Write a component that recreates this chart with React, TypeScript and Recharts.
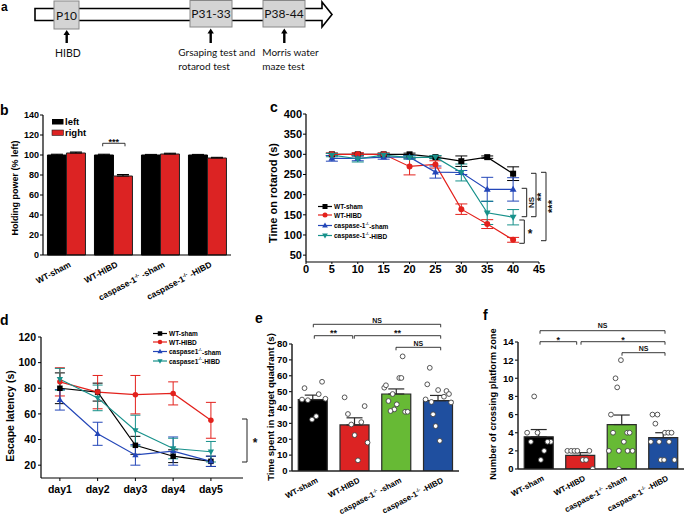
import React from "react";
import {
  BarChart,
  Bar,
  LineChart,
  Line,
  ComposedChart,
  Scatter,
  XAxis,
  YAxis,
  ErrorBar,
  Cell,
} from "recharts";

const FONT = "'Liberation Sans', Arial, sans-serif";

// group names used by b, e, f
const groupNames = ["WT-sham", "WT-HIBD", "caspase-1-/- -sham", "caspase-1-/- -HIBD"];

// b: grip strength (% left)
const gripLeft = [100, 100, 100, 100];
const gripLeftErr = [0.8, 0.8, 0.6, 0.6];
const gripRight = [102, 79, 101, 97];
const gripRightErr = [1, 1.5, 0.8, 0.7];

// c: rotarod
const rotTime = [5, 10, 15, 20, 25, 30, 35, 40];
const rotWtSham = [300, 300, 300, 300, 293, 283, 293, 252];
const rotWtShamErr = [3, 3, 3, 3, 3, 13, 3, 17];
const rotWtHibd = [300, 300, 300, 270, 275, 164, 127, 88];
const rotWtHibdErr = [3, 4, 3, 21, 9, 13, 11, 6];
const rotKoSham = [290, 290, 293, 293, 256, 255, 213, 213];
const rotKoShamErr = [7, 6, 5, 4, 15, 5, 30, 29];
const rotKoHibd = [298, 289, 298, 292, 293, 255, 155, 144];
const rotKoHibdErr = [4, 8, 4, 4, 4, 21, 29, 19];
const rotLegend = ["WT-sham", "WT-HIBD", "caspase-1-/--sham", "caspase-1-/--HIBD"];

// d: Morris water maze escape latency
const mwmDay = [1, 2, 3, 4, 5];
const mwmWtSham = [80, 77, 35.5, 27, 23];
const mwmWtShamErr = [12, 7, 7, 5, 4];
const mwmWtHibd = [85, 77, 75, 76, 55];
const mwmWtHibdErr = [11, 13, 15, 9, 14];
const mwmKoSham = [71, 44.5, 28, 31, 23];
const mwmKoShamErr = [8, 9, 8, 11, 4];
const mwmKoHibd = [87, 72.5, 47, 33, 30.5];
const mwmKoHibdErr = [8.5, 10, 12, 8, 8];
const mwmLegend = ["WT-sham", "WT-HIBD", "caspase1-/--sham", "caspase1-/--HIBD"];

// e: time in target quadrant, mean / sem / individual animals [x offset, value]
const quadMean = [45, 29, 48.5, 44.3];
const quadErr = [2.8, 4.5, 3.2, 3.3];
const quadPtsWtSham = [[-0.2, 52.2], [-0.26, 45], [-0.12, 44.6], [0.14, 48.4], [0.22, 56.2], [0.3, 45.5], [0.08, 34.5], [-0.02, 32.4]];
const quadPtsWtHibd = [[-0.24, 46.4], [-0.16, 35.9], [-0.08, 29.3], [0, 22.6], [0.16, 30.8], [0.24, 40.9], [0.31, 17.9], [0.08, 6.7]];
const quadPtsKoSham = [[-0.29, 52.5], [-0.25, 54], [-0.19, 44.1], [-0.09, 48.5], [0.01, 42], [-0.05, 38.8], [-0.14, 37.8], [0.07, 58.6], [0.12, 58.6], [0.15, 72.2], [0.21, 37.3], [0.27, 37.3]];
const quadPtsKoHibd = [[-0.3, 45.1], [-0.16, 43.5], [-0.26, 54.6], [-0.2, 65], [-0.12, 35.7], [-0.06, 28.3], [0.04, 19], [0, 51], [0.14, 46.8], [0.2, 50.4], [0.26, 48.5], [0.31, 43.2]];

// f: number of platform crossings
const crossMean = [3.55, 1.5, 4.9, 3.45];
const crossErr = [0.8, 0.3, 1.05, 0.55];
const crossPtsWtSham = [[-0.28, 4], [-0.03, 4], [-0.11, 8], [-0.19, 3], [0.29, 3], [0.21, 3], [0.13, 2], [0.05, 1]];
const crossPtsWtHibd = [[-0.31, 2], [-0.22, 2], [-0.14, 2], [-0.07, 2], [0.22, 2], [0.06, 1], [0.14, 1], [0.3, 0]];
const crossPtsKoSham = [[-0.26, 6], [-0.15, 10], [-0.11, 9], [-0.02, 12], [-0.07, 0], [-0.21, 4], [0.13, 4], [0.19, 4], [0.05, 3], [-0.31, 2], [-0.07, 2], [0.14, 2], [0.26, 2]];
const crossPtsKoHibd = [[-0.26, 6], [-0.14, 6], [-0.19, 5], [0.04, 4], [0.12, 4], [0.2, 4], [-0.3, 3], [-0.1, 3], [0.14, 3], [-0.06, 1], [0.02, 1], [0.27, 1]];

const RED = "#e3211c";
const BLUE = "#2346b8";
const TEAL = "#17918b";
const barColors = ["#000000", "#dc2323", "#67ba35", "#1f4f9f"];

const lineStyles = [
  { key: "wtSham", color: "#000", shape: "square" },
  { key: "wtHibd", color: RED, shape: "circle" },
  { key: "koSham", color: BLUE, shape: "up" },
  { key: "koHibd", color: TEAL, shape: "down" },
];

const gripData = groupNames.map((name, i) => ({
  name,
  left: gripLeft[i],
  leftErr: [0, gripLeftErr[i]],
  right: gripRight[i],
  rightErr: [0, gripRightErr[i]],
}));

const rotData = rotTime.map((t, i) => ({
  t,
  wtSham: rotWtSham[i], wtShamE: rotWtShamErr[i],
  wtHibd: rotWtHibd[i], wtHibdE: rotWtHibdErr[i],
  koSham: rotKoSham[i], koShamE: rotKoShamErr[i],
  koHibd: rotKoHibd[i], koHibdE: rotKoHibdErr[i],
}));

const mwmData = mwmDay.map((t, i) => ({
  t,
  wtSham: mwmWtSham[i], wtShamE: mwmWtShamErr[i],
  wtHibd: mwmWtHibd[i], wtHibdE: mwmWtHibdErr[i],
  koSham: mwmKoSham[i], koShamE: mwmKoShamErr[i],
  koHibd: mwmKoHibd[i], koHibdE: mwmKoHibdErr[i],
}));

const barData = (mean: number[], err: number[]) =>
  groupNames.map((name, i) => ({ name, y: mean[i], err: [0, err[i]] }));

const pointData = (groups: number[][][]) =>
  groups.flatMap((pts, i) => pts.map(([dx, y]) => ({ x: i + dx, y })));

const quadBars = barData(quadMean, quadErr);
const quadPts = pointData([quadPtsWtSham, quadPtsWtHibd, quadPtsKoSham, quadPtsKoHibd]);
const crossBars = barData(crossMean, crossErr);
const crossPts = pointData([crossPtsWtSham, crossPtsWtHibd, crossPtsKoSham, crossPtsKoHibd]);

// text with a small "-/-" superscript
const Sup = ({ text, fs }: { text: string; fs: number }) => {
  const parts = text.split("-/-");
  if (parts.length < 2) return <>{text}</>;
  return (
    <>
      {parts[0]}
      <tspan dy={-fs * 0.4} fontSize={fs * 0.6}>-/-</tspan>
      <tspan dy={fs * 0.4}>{parts[1]}</tspan>
    </>
  );
};

const rotTick = (fs: number, dx: number, dy: number) => (props: any) => {
  const { x, y, payload } = props;
  return (
    <g transform={`translate(${x + dx},${y + dy}) rotate(-28)`}>
      <text textAnchor="end" dy="0.71em" fontSize={fs} fontWeight="bold" fill="#000">
        <Sup text={payload.value} fs={fs} />
      </text>
    </g>
  );
};

const marker = (shape: string, cx: number, cy: number, s: number, color: string) => {
  const h = s / 2;
  if (shape === "square") return <rect x={cx - h} y={cy - h} width={s} height={s} fill={color} />;
  if (shape === "circle") return <circle cx={cx} cy={cy} r={h} fill={color} />;
  if (shape === "up")
    return <polygon points={`${cx},${cy - h * 1.2} ${cx - h * 1.15},${cy + h * 0.8} ${cx + h * 1.15},${cy + h * 0.8}`} fill={color} />;
  return <polygon points={`${cx},${cy + h * 1.2} ${cx - h * 1.15},${cy - h * 0.8} ${cx + h * 1.15},${cy - h * 0.8}`} fill={color} />;
};

const dotFn = (shape: string, color: string, s: number) => (p: any) => (
  <g key={`${shape}-${p.index}`}>{p.cx != null ? marker(shape, p.cx, p.cy, s, color) : null}</g>
);

const openDot = (p: any) => (
  <circle key={`pt-${p.index}`} cx={p.cx} cy={p.cy} r={2.4} fill="#fff" stroke="#444" strokeWidth={0.9} />
);

const axisLine = { stroke: "#000", strokeWidth: 1.2 };

const GripChart = () => (
  <BarChart width={240} height={215} data={gripData} margin={{ top: 15, right: 9, left: 0, bottom: 15 }} barCategoryGap="9.5%" barGap={0}>
    <XAxis dataKey="name" height={45} interval={0} tickLine={false} tickSize={0} axisLine={axisLine} tick={rotTick(8.5, 2, 4)} />
    <YAxis width={43} domain={[0, 140]} ticks={[0, 20, 40, 60, 80, 100, 120, 140]} interval={0} tickSize={3} tickMargin={1}
      axisLine={axisLine} tickLine={{ stroke: "#000" }} tick={{ fontSize: 9, fontWeight: "bold", fill: "#000" }} />
    <Bar dataKey="left" fill="#000" stroke="#000" strokeWidth={1} isAnimationActive={false}>
      <ErrorBar dataKey="leftErr" width={6} stroke="#000" strokeWidth={1} direction="y" />
    </Bar>
    <Bar dataKey="right" fill="#dc2323" stroke="#222" strokeWidth={1} isAnimationActive={false}>
      <ErrorBar dataKey="rightErr" width={6} stroke="#000" strokeWidth={1} direction="y" />
    </Bar>
  </BarChart>
);

const RotarodChart = () => (
  <LineChart width={280} height={180} data={rotData} margin={{ top: 14, right: 11, left: 0, bottom: 0 }}>
    <XAxis dataKey="t" type="number" domain={[0, 45]} ticks={[0, 5, 10, 15, 20, 25, 30, 35, 40, 45]} interval={0}
      height={18} tickSize={2} tickMargin={1} axisLine={axisLine} tickLine={{ stroke: "#000" }}
      tick={{ fontSize: 11, fontWeight: "bold", fill: "#000" }} />
    <YAxis width={36} domain={[33, 400]} allowDataOverflow ticks={[50, 100, 150, 200, 250, 300, 350, 400]} interval={0}
      tickSize={3} tickMargin={1} axisLine={axisLine} tickLine={{ stroke: "#000" }}
      tick={{ fontSize: 11, fontWeight: "bold", fill: "#000" }} />
    {lineStyles.map((s) => (
      <Line key={s.key} dataKey={s.key} stroke={s.color} strokeWidth={1.2} dot={dotFn(s.shape, s.color, 6)}
        activeDot={false} isAnimationActive={false}>
        <ErrorBar dataKey={`${s.key}E`} width={6} stroke={s.color} strokeWidth={1} direction="y" />
      </Line>
    ))}
  </LineChart>
);

const MazeChart = () => (
  <LineChart width={250} height={219} data={mwmData} margin={{ top: 37, right: 7, left: 0, bottom: 0 }}>
    <XAxis dataKey="t" type="number" domain={[0.5, 5.85]} ticks={[1, 2, 3, 4, 5]} interval={0}
      tickFormatter={(v: number) => `day${v}`} height={41} tickSize={3} tickMargin={5} axisLine={axisLine}
      tickLine={{ stroke: "#000" }} tick={{ fontSize: 10.5, fontWeight: "bold", fill: "#000" }} />
    <YAxis width={41} domain={[10, 120]} allowDataOverflow ticks={[20, 40, 60, 80, 100, 120]} interval={0}
      tickSize={3} tickMargin={2} axisLine={axisLine} tickLine={{ stroke: "#000" }}
      tick={{ fontSize: 10.5, fontWeight: "bold", fill: "#000" }} />
    {lineStyles.map((s) => (
      <Line key={s.key} dataKey={s.key} stroke={s.color} strokeWidth={1.2} dot={dotFn(s.shape, s.color, 5.5)}
        activeDot={false} isAnimationActive={false}>
        <ErrorBar dataKey={`${s.key}E`} width={5} stroke={s.color} strokeWidth={1} direction="y" />
      </Line>
    ))}
  </LineChart>
);

const DotBarChart = ({ bars, pts, max, step, yWidth, top, right, xHeight }: any) => {
  const ticks: number[] = [];
  for (let v = 0; v <= max; v += step) ticks.push(v);
  return (
    <ComposedChart width={215} height={219} data={bars} margin={{ top, right, left: 0, bottom: 0 }} barCategoryGap="15%">
      <XAxis xAxisId="cat" dataKey="name" height={xHeight} interval={0} tickLine={false} tickSize={0}
        axisLine={{ stroke: "#222", strokeWidth: 1.5 }} tick={rotTick(8, 3, 4)} />
      <XAxis xAxisId="num" dataKey="x" type="number" domain={[-0.5, 3.5]} hide allowDataOverflow />
      <YAxis width={yWidth} domain={[0, max]} allowDataOverflow ticks={ticks} interval={0} tickSize={3} tickMargin={1.5}
        axisLine={{ stroke: "#222", strokeWidth: 1.5 }} tickLine={{ stroke: "#222", strokeWidth: 1.2 }}
        tick={{ fontSize: 9.5, fontWeight: "bold", fill: "#000" }} />
      <Bar xAxisId="cat" dataKey="y" stroke="#2a2a2a" strokeWidth={1.2} isAnimationActive={false}>
        {bars.map((_: any, i: number) => (
          <Cell key={i} fill={barColors[i]} />
        ))}
        <ErrorBar dataKey="err" width={8} stroke="#2a2a2a" strokeWidth={1.2} direction="y" />
      </Bar>
      <Scatter xAxisId="num" data={pts} dataKey="y" shape={openDot} isAnimationActive={false} />
    </ComposedChart>
  );
};

const hBracket = (x1: number, x2: number, y: number, label: string, ly: number, fs: number) => (
  <g key={`${x1}-${y}`}>
    <path d={`M${x1},${y + 3}V${y}H${x2}V${y + 3}`} fill="none" stroke="#222" strokeWidth={0.9} />
    <text x={(x1 + x2) / 2} y={ly} textAnchor="middle" fontSize={fs} fontWeight="bold" fill="#111">{label}</text>
  </g>
);

const vBracket = (x: number, y1: number, y2: number, label: string, lx: number, ly: number, fs: number, rot: boolean) => (
  <g key={`${x}-${y1}`}>
    <path d={`M${x - 5},${y1}H${x}V${y2}H${x - 5}`} fill="none" stroke="#222" strokeWidth={1} />
    <text x={lx} y={ly} textAnchor="middle" dominantBaseline="central" fontSize={fs} fontWeight="bold" fill="#111"
      transform={rot ? `rotate(-90 ${lx} ${ly})` : undefined}>{label}</text>
  </g>
);

const yTitle = (x: number, y: number, text: string, fs: number) => (
  <text x={x} y={y} textAnchor="middle" dominantBaseline="central" fontSize={fs} fontWeight="bold" fill="#000"
    transform={`rotate(-90 ${x} ${y})`}>{text}</text>
);

const legendRows = (x: number, ys: number[], labels: string[], s: number, fs: number) =>
  lineStyles.map((st, i) => (
    <g key={st.key}>
      <line x1={x} x2={x + 14} y1={ys[i]} y2={ys[i]} stroke={st.color} strokeWidth={1.2} />
      {marker(st.shape, x + 7, ys[i], s, st.color)}
      <text x={x + 16} y={ys[i]} dominantBaseline="central" fontSize={fs} fontWeight="bold" fill="#000">
        <Sup text={labels[i]} fs={fs} />
      </text>
    </g>
  ));

const Overlay = () => (
  <svg width={685} height={519} style={{ position: "absolute", left: 0, top: 0 }}>
    {/* a: timeline */}
    <g fontFamily="Lato, 'Open Sans', sans-serif" fill="#111">
      <polygon points="35,8.5 322,8.5 322,2 332,14.5 322,27 322,20.5 35,20.5" fill="#fff" stroke="#000" strokeWidth={1.6} />
      <rect x={54} y={1} width={25} height={28} fill="#d4d4d4" stroke="#888" />
      <rect x={190} y={0.5} width={42} height={26.5} fill="#d4d4d4" stroke="#888" />
      <rect x={263} y={0.5} width={42} height={26.5} fill="#d4d4d4" stroke="#888" />
      <text x={66.5} y={19.5} textAnchor="middle" fontSize={12}>P10</text>
      <text x={211} y={18} textAnchor="middle" fontSize={12}>P31-33</text>
      <text x={284} y={18} textAnchor="middle" fontSize={12}>P38-44</text>
      {[[66.7, 30], [210.7, 28.5], [284.3, 28.5]].map(([x, y]) => (
        <g key={x}>
          <line x1={x} x2={x} y1={y + 4} y2={43} stroke="#000" strokeWidth={2.4} />
          <polygon points={`${x},${y} ${x - 3.2},${y + 5} ${x + 3.2},${y + 5}`} fill="#000" />
        </g>
      ))}
      <text x={55} y={57} fontSize={10.5}>HIBD</text>
      <text x={178.3} y={56} fontSize={10}>Grsaping test and</text>
      <text x={178.3} y={69.5} fontSize={10}>rotarod test</text>
      <text x={262.3} y={56} fontSize={10}>Morris water</text>
      <text x={262.3} y={69.5} fontSize={10}>maze test</text>
    </g>

    {/* panel letters */}
    <g fontSize={14} fontWeight="bold" fill="#000">
      <text x={1} y={11} fontSize={12}>a</text>
      <text x={0} y={115}>b</text>
      <text x={270} y={112}>c</text>
      <text x={0} y={325}>d</text>
      <text x={255} y={323}>e</text>
      <text x={483} y={320}>f</text>
    </g>

    {/* axis titles */}
    {yTitle(15, 188, "Holding power (% left)", 9)}
    {yTitle(273, 193, "Time on rotarod (s)", 11)}
    {yTitle(10, 416, "Escape latency (s)", 10.5)}
    {yTitle(270, 407, "Time spent in target quadrant (s)", 9.5)}
    {yTitle(493, 404, "Number of crossing platform zone", 9.3)}

    {/* b legend + significance */}
    <rect x={52} y={119} width={11.5} height={5.5} fill="#000" />
    <text x={65} y={124.5} fontSize={9.5} fontWeight="bold">left</text>
    <rect x={52} y={130} width={11.5} height={5.5} fill="#dc2323" stroke="#222" strokeWidth={0.6} />
    <text x={65} y={135.5} fontSize={9.5} fontWeight="bold">right</text>
    {hBracket(102.7, 125, 143.3, "***", 145, 9)}

    {/* c legend + significance */}
    {legendRows(318, [206.5, 215, 225.5, 235.5], rotLegend, 5, 6.5)}
    {vBracket(526.7, 188.3, 216.7, "NS", 531, 202.5, 8, true)}
    {vBracket(536, 173.3, 216.7, "**", 541, 197, 11, true)}
    {vBracket(546, 172.3, 240.7, "***", 552, 206.5, 11, true)}
    {vBracket(524.3, 220, 243.3, "*", 530, 234, 12, false)}

    {/* d legend + significance */}
    {legendRows(153, [333.5, 342, 351.5, 361], mwmLegend, 4.5, 6.5)}
    {vBracket(247, 419, 462, "*", 255, 443, 12, false)}

    {/* e significance */}
    {hBracket(313.3, 440.7, 324.3, "NS", 322.5, 7)}
    {hBracket(314.3, 352.7, 335.7, "**", 336, 9)}
    {hBracket(354.3, 440.7, 335.7, "**", 336, 9)}
    {hBracket(396, 440.7, 347.3, "NS", 345.5, 7)}

    {/* f significance */}
    {hBracket(540, 665, 330.7, "NS", 328, 7)}
    {hBracket(540, 576.7, 341.7, "*", 342.5, 9)}
    {hBracket(581, 665, 341.7, "*", 342.5, 9)}
    {hBracket(622, 665, 352.7, "NS", 350.5, 7)}
  </svg>
);

export default function App() {
  return (
    <div style={{ position: "absolute", left: 0, top: 0, width: 685, height: 519, background: "#fff", fontFamily: FONT, overflow: "hidden" }}>
      <div style={{ position: "absolute", left: 0, top: 100 }}><GripChart /></div>
      <div style={{ position: "absolute", left: 270, top: 100 }}><RotarodChart /></div>
      <div style={{ position: "absolute", left: 0, top: 300 }}><MazeChart /></div>
      <div style={{ position: "absolute", left: 250, top: 300 }}>
        <DotBarChart bars={quadBars} pts={quadPts} max={80} step={10} yWidth={42} top={44} right={6} xHeight={48} />
      </div>
      <div style={{ position: "absolute", left: 470, top: 300 }}>
        <DotBarChart bars={crossBars} pts={crossPts} max={14} step={2} yWidth={48} top={42} right={1} xHeight={50} />
      </div>
      <Overlay />
    </div>
  );
}
